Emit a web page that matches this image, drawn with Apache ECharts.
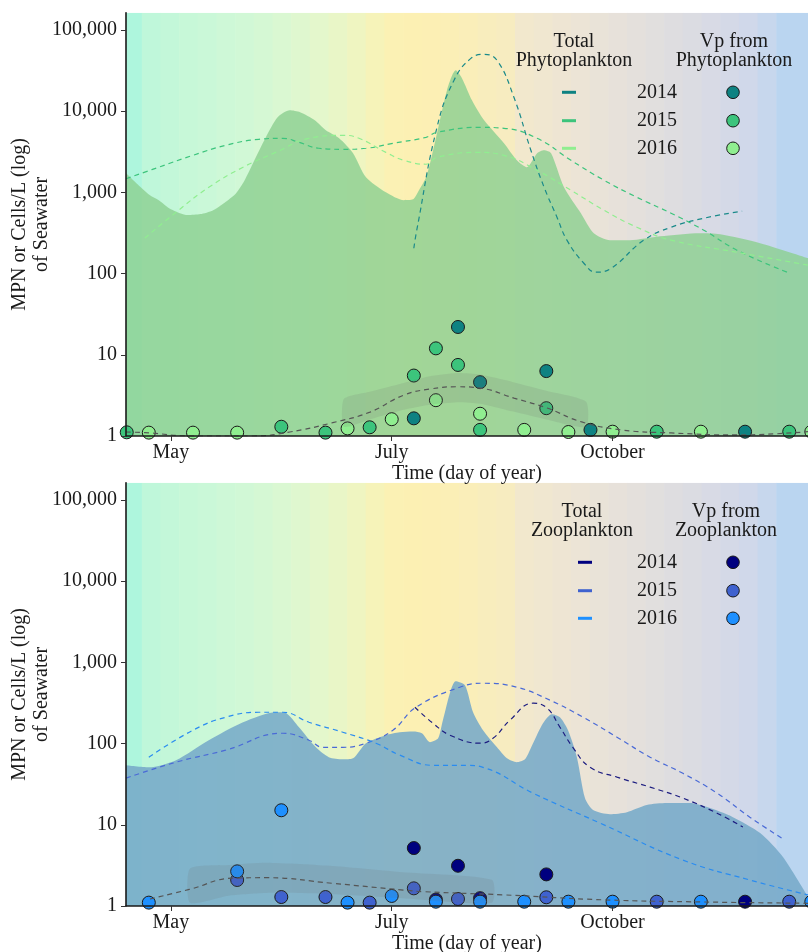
<!DOCTYPE html>
<html><head><meta charset="utf-8">
<script src="https://cdn.jsdelivr.net/npm/echarts@6/dist/echarts.min.js"></script>
<style>html,body{margin:0;padding:0;background:#fff}#c{width:808px;height:952px}</style>
</head><body><div id="c"></div>
<script>
// ---------- axes ----------
const XMIN = 107.8, XMAX = 293.1, YMIN = 1, YMAX = 163000;
const monthTicks = [120, 180, 240];
const monthLabels = ['May', 'July', 'October'];
const years = ['2014', '2015', '2016'];
const yTitle = 'MPN or Cells/L (log)\nof Seawater';
const xTitle = 'Time (day of year)';

// ---------- phytoplankton panel ----------
const phytoTotalArea = [[107.8,1720],[111,1250],[114.3,920],[116.7,800],[120,620],[124.6,525],[128,540],[131.4,600],[134.5,740],[137.7,975],[140,1400],[142.3,2280],[145.8,4760],[149,8390],[152.3,10230],[155.1,9670],[159.1,7700],[162.1,5800],[165.7,4630],[169.5,3030],[173,1530],[178.4,1000],[183.3,800],[185.8,820],[187.4,1060],[189.5,1600],[192.3,5330],[195,18000],[197.4,31800],[199.1,25300],[201.8,13600],[205.1,7700],[210.5,4020],[214,2480],[216.7,2040],[219.5,3030],[221.4,3300],[223.3,3030],[226.8,1155],[231.4,553],[234.9,314],[239.3,258],[244.7,258],[252.9,288],[263.8,314],[269.2,305],[280.1,237],[293.1,155]];
const phyto2014Fit = [[186,205],[186.8,342],[192.3,6320],[196.9,23900],[201.5,44600],[205.1,50000],[208.6,42200],[213.2,14800],[217.8,3300],[221.4,1155],[224.9,494],[227.6,258],[232.2,134],[235.5,104],[239.6,116],[248.5,258],[255.9,372],[264.8,480],[275.2,586]];
const phyto2015Fit = [[107.8,1470],[116.7,2040],[126,2860],[134.9,3800],[143.9,4500],[150.4,4630],[154.8,4130],[160.2,3490],[166.7,3390],[173,3490],[180.3,4020],[189.3,4760],[192.3,5490],[204.2,6320],[210.5,6150],[219.5,4630],[228.7,2480],[237.7,1408],[246.6,870],[255.9,553],[264.8,342],[273.8,194],[287.4,104]];
const phyto2016Fit = [[112.9,273],[121.4,569],[130.3,1155],[139.6,2040],[148.5,3110],[157.5,4630],[166.7,5040],[171.1,4630],[178.4,3110],[183.3,2480],[189.3,2220],[192.3,2700],[203.2,3110],[210.5,2860],[219.5,1870],[228.7,1060],[237.7,602],[246.6,372],[255.9,258],[273.8,183],[293.1,127]];
const vpPhyto2014 = [[186,1.65],[198,22],[204,4.6],[222,6.3],[234,1.19],[276,1.13]];
const vpPhyto2015 = [[108,1.11],[150,1.30],[162,1.1],[174,1.28],[186,5.55],[192,12],[198,7.5],[204,1.19],[222,2.2],[252,1.13],[288,1.13]];
const vpPhyto2016 = [[114,1.1],[126,1.1],[138,1.1],[168,1.24],[180,1.61],[192,2.76],[204,1.88],[216,1.19],[228,1.12],[240,1.13],[264,1.13],[294,1.13]];
const vpPhytoFit = [[107.8,1.12],[114.3,1.09],[125.2,1.0],[142.3,1.0],[152.3,1.12],[164,1.46],[174.1,1.97],[183.3,3.19],[190.4,3.79],[197.7,4.04],[204,3.89],[213.2,2.93],[222.2,2.21],[231.4,1.5],[242.3,1.19],[255.9,1.09],[273.8,1.03],[293.1,1.13]];
// ribbon: [day, lower, upper]
const vpPhytoBand = [[167,1.3,2.85],[174,1.6,3.5],[183.3,2.1,4.5],[190,2.4,5.4],[197.7,2.6,5.96],[204,2.5,5.7],[213,2.0,4.6],[222,1.6,3.6],[232.8,1.3,2.64]];

// ---------- zooplankton panel ----------
const zooTotalArea = [[107.8,54],[114,51],[121.4,62.5],[130.3,110],[139.6,183],[148.5,243],[151.3,237],[154.8,159],[159.4,90],[162.9,68],[166.7,64],[169.5,66],[173,101],[178.4,127],[182.2,138],[185.8,141],[188.2,134],[190.4,104],[192.6,116],[193.9,194],[197.4,586],[199.9,523],[202.1,243],[204.8,146],[208.6,90],[211.3,66],[214,59],[216.2,64],[218.4,101],[221.1,178],[223.5,230],[225.7,211],[227.9,146],[230.3,68],[232.5,21.3],[234.7,15.2],[239.3,13.5],[243.9,14.3],[249.3,17.5],[254.8,18.5],[261,18.5],[265.7,16.5],[272.7,12.4],[280.1,7.9],[286.3,4.0],[293.1,1.29]];
const zoo2014Fit = [[186.3,280],[191.2,178],[195.8,127],[204,101],[207.5,116],[212.1,194],[218.4,314],[222.2,273],[225.7,159],[229.2,90],[233.9,51],[241.2,38.6],[250.2,29.1],[259.1,21.3],[268.4,13.9],[275.4,9.4]];
const zoo2015Fit = [[107.8,37.5],[121.4,59],[134.9,83],[150.4,134],[157.5,110],[161.3,90],[166.7,90],[173,101],[180.3,146],[186.6,280],[198.5,494],[204.8,553],[214,494],[223,342],[232,211],[241.2,120],[250.2,68],[259.1,43],[268.4,24.5],[277.3,12.4],[286.8,6.5]];
const zoo2016Fit = [[114,68],[126,146],[134.9,211],[143.9,243],[150.4,243],[157.5,183],[166.7,138],[175.7,101],[182.2,72],[191.2,54],[200.4,54],[204.8,51],[218.4,24.5],[236.6,10.5],[259.1,3.68],[277.3,2.09],[293.1,1.37]];
const vpZoo2014 = [[192,1.2],[186,5.17],[198,3.13],[204,1.25],[222,2.45],[276,1.13]];
const vpZoo2015 = [[138,2.09],[150,1.29],[162,1.29],[174,1.1],[186,1.65],[198,1.22],[222,1.28],[252,1.13],[288,1.13]];
const vpZoo2016 = [[114,1.1],[138,2.67],[150,15.1],[168,1.1],[180,1.33],[192,1.13],[204,1.13],[216,1.13],[228,1.13],[240,1.13],[264,1.13],[294,1.13]];
const vpZooFit = [[114.3,1.22],[125,1.6],[136.8,2.2],[146.1,2.23],[164,1.9],[183.3,1.57],[188.8,1.5],[210.5,1.37],[237.7,1.19],[265,1.12],[293.1,1.08]];
const vpZooBand = [[125.2,1.1,2.9],[136,1.35,3.2],[146,1.45,3.4],[164,1.4,3.1],[183,1.25,2.6],[207.2,1.1,2.1]];

// ---------- styling ----------
const FONT = "'Liberation Serif','DejaVu Serif',serif";
const phytoColors = ['#0e8282', '#3cc47c', '#90ee90'];
const zooColors = ['#00007f', '#3f62cf', '#1e90ff'];
const bandStops = [[110,'#aef6dd'],[114.6,'#bff7da'],[127.9,'#c9f8d8'],[138.8,'#d0f8d6'],[149.6,'#d9f8d2'],[160.5,'#e4f7cc'],[168.6,'#edf6c4'],[175.4,'#f6f3b9'],[182.2,'#fcf0b2'],[193.1,'#fcefb4'],[210.8,'#f7ecc0'],[216.2,'#f2e8cd'],[231.1,'#ece4d6'],[247.4,'#e4e0dc'],[263.8,'#dadbe3'],[277.3,'#d0d8ea'],[288.2,'#bad5f0']];
function hex(c){return [1,3,5].map(i=>parseInt(c.substr(i,2),16));}
function bandColor(d){
  if (d<=bandStops[0][0]) return bandStops[0][1];
  for (let i=1;i<bandStops.length;i++){
    if (d<=bandStops[i][0]){
      const a=bandStops[i-1], b=bandStops[i], t=(d-a[0])/(b[0]-a[0]);
      const ca=hex(a[1]), cb=hex(b[1]);
      return 'rgb('+ca.map((v,k)=>Math.round(v+(cb[k]-v)*t)).join(',')+')';
    }
  }
  return bandStops[bandStops.length-1][1];
}
const bands = [];
{ let edges=[XMIN]; for(let e=112.1;e<284.5;e+=5.07) edges.push(e); edges.push(XMAX);
  for(let i=0;i<edges.length-1;i++) bands.push([edges[i],edges[i+1]]); }

const GRID_TOP = [12.7, 482.7], GRID_H = 423.3;

function bandSeries(idx){
  return {type:'custom', xAxisIndex:idx, yAxisIndex:idx, z:1, silent:true, clip:true,
    data: bands.map(b=>[b[0],b[1]]),
    renderItem:(p,api)=>{
      const a=api.coord([api.value(0),YMAX]), b=api.coord([api.value(1),YMIN]);
      const mid=(api.value(0)+api.value(1))/2;
      return {type:'rect', shape:{x:a[0],y:a[1],width:b[0]-a[0]+0.6,height:b[1]-a[1]}, style:{fill:bandColor(mid)}};
    }};
}
function areaSeries(idx,data,color){
  return {type:'line', xAxisIndex:idx, yAxisIndex:idx, z:2, data, smooth:0.25, showSymbol:false, silent:true,
    lineStyle:{width:0}, areaStyle:{color, opacity:1, origin:'start'}};
}
function fitSeries(idx,data,color,z){
  return {type:'line', xAxisIndex:idx, yAxisIndex:idx, z:z||3, data, smooth:0.45, showSymbol:false, silent:true,
    lineStyle:{color, width:1.2, type:[5,4]}};
}
function pointSeries(idx,data,color){
  return {type:'scatter', xAxisIndex:idx, yAxisIndex:idx, z:4, data, symbolSize:13, clip:false, silent:true,
    itemStyle:{color, borderColor:'#1a1a1a', borderWidth:1, opacity:1}};
}
function ribbonSeries(idx,band){
  return {type:'custom', xAxisIndex:idx, yAxisIndex:idx, z:5, silent:true, data:[[band[0][0],band[0][1]]],
    renderItem:(p,api)=>{
      const up=band.map(r=>api.coord([r[0],r[2]]));
      const lo=band.slice().reverse().map(r=>api.coord([r[0],r[1]]));
      return {type:'polygon', shape:{points:up.concat(lo), smooth:0.2}, style:{fill:'rgba(110,110,110,0.15)'}};
    }};
}

function xAxis(idx){
  return {type:'value', gridIndex:idx, min:XMIN, max:XMAX, z:10,
    name:xTitle, nameLocation:'middle', nameGap:25,
    nameTextStyle:{fontFamily:FONT, fontSize:20, color:'#1a1a1a'},
    axisLine:{show:true, onZero:false, lineStyle:{color:'#1a1a1a', width:1.6}},
    axisTick:{show:true, customValues:monthTicks, length:5, lineStyle:{color:'#333', width:1}},
    axisLabel:{customValues:monthTicks, formatter:v=>monthLabels[monthTicks.indexOf(v)], fontFamily:FONT, fontSize:20, color:'#1a1a1a', margin:7},
    splitLine:{show:false}};
}
function yAxis(idx){
  return {type:'log', logBase:10, gridIndex:idx, min:YMIN, max:YMAX, z:10,
    axisLine:{show:true, lineStyle:{color:'#1a1a1a', width:1.6}},
    axisTick:{show:true, length:5, lineStyle:{color:'#333', width:1}},
    axisLabel:{formatter:v=>Math.round(v).toLocaleString('en-US'), fontFamily:FONT, fontSize:20, color:'#1a1a1a', margin:9},
    splitLine:{show:false}, minorTick:{show:false}};
}

function legend(offY, title1, colors){
  const g=[];
  const txt=(x,y,t)=>({type:'text', x, y, z:20, style:{text:t, font:'20px '+FONT, fill:'#1a1a1a', align:'center', verticalAlign:'middle'}});
  const cx1 = title1==='Phytoplankton'?574:582, cx2 = title1==='Phytoplankton'?734:726;
  const dashX = title1==='Phytoplankton'?569:585;
  g.push(txt(cx1, offY+41.5, 'Total'), txt(cx1, offY+60.5, title1));
  g.push(txt(cx2, offY+41.5, 'Vp from'), txt(cx2, offY+60.5, title1));
  const rows=[92.3,120.7,148.3];
  years.forEach((yr,i)=>{
    const y=offY+rows[i];
    g.push({type:'rect', z:20, shape:{x:dashX-7, y:y-1.5, width:14, height:3}, style:{fill:colors[i]}});
    g.push(txt(657, y, yr));
    g.push({type:'circle', z:20, shape:{cx:733, cy:y, r:6.3}, style:{fill:colors[i], stroke:'#1a1a1a', lineWidth:1}});
  });
  // y-axis title
  g.push({type:'text', x:31, y:offY+224.4, rotation:Math.PI/2, z:20,
    style:{text:yTitle, font:'20px '+FONT, fill:'#1a1a1a', align:'center', verticalAlign:'middle', lineHeight:22}});
  return g;
}

const chart = echarts.init(document.getElementById('c'), null, {renderer:'canvas'});
chart.setOption({
  animation:false,
  backgroundColor:'#ffffff',
  grid:[
    {left:126, right:0, top:GRID_TOP[0], height:GRID_H, outerBoundsMode:'none'},
    {left:126, right:0, top:GRID_TOP[1], height:GRID_H, outerBoundsMode:'none'}
  ],
  xAxis:[xAxis(0), xAxis(1)],
  yAxis:[yAxis(0), yAxis(1)],
  graphic: legend(0,'Phytoplankton',phytoColors).concat(legend(470,'Zooplankton',zooColors)),
  series:[
    bandSeries(0),
    areaSeries(0, phytoTotalArea, 'rgba(140,208,145,0.82)'),
    fitSeries(0, phyto2014Fit, '#1a8a8a'),
    fitSeries(0, phyto2015Fit, '#3cc47c'),
    fitSeries(0, phyto2016Fit, '#90ee90'),
    pointSeries(0, vpPhyto2014, phytoColors[0]),
    pointSeries(0, vpPhyto2015, phytoColors[1]),
    pointSeries(0, vpPhyto2016, phytoColors[2]),
    ribbonSeries(0, vpPhytoBand),
    fitSeries(0, vpPhytoFit, '#555555', 6),

    bandSeries(1),
    areaSeries(1, zooTotalArea, 'rgba(118,170,200,0.88)'),
    fitSeries(1, zoo2014Fit, '#1c1c80'),
    fitSeries(1, zoo2015Fit, '#4a6ad6'),
    fitSeries(1, zoo2016Fit, '#2a8cf0'),
    pointSeries(1, vpZoo2014, zooColors[0]),
    pointSeries(1, vpZoo2015, zooColors[1]),
    pointSeries(1, vpZoo2016, zooColors[2]),
    ribbonSeries(1, vpZooBand),
    fitSeries(1, vpZooFit, '#555555', 6)
  ]
});
</script></body></html>
